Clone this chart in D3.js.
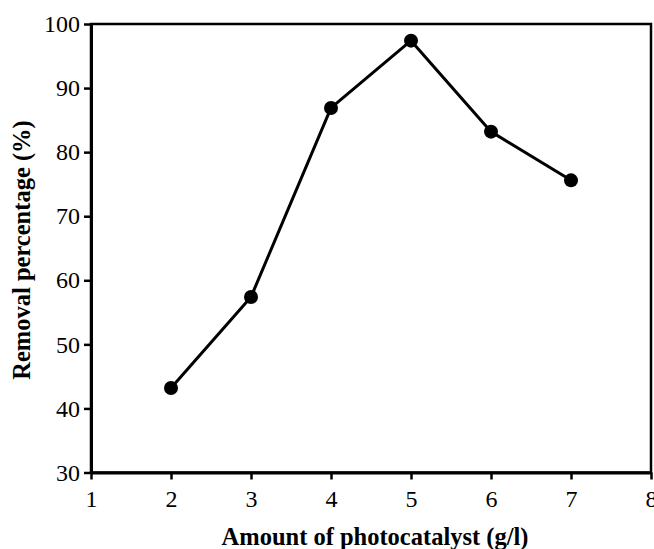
<!DOCTYPE html>
<html>
<head>
<meta charset="utf-8">
<script src="https://cdn.jsdelivr.net/npm/d3@7"></script>
<style>
  body { margin: 0; background: #fff; }
  svg text { fill: #000; }
</style>
</head>
<body>
<div id="chart"></div>
<script>
// data
const dose = [2, 3, 4, 5, 6, 7];
const removal = [43.2, 57.4, 86.9, 97.4, 83.2, 75.6];
const xTicks = [1, 2, 3, 4, 5, 6, 7, 8];
const yTicks = [30, 40, 50, 60, 70, 80, 90, 100];

const serif = "'Liberation Serif', 'Times New Roman', serif";

const width = 654, height = 549;
const margin = { top: 24, right: 3, bottom: 76.5, left: 91 };

const svg = d3.select("#chart").append("svg")
  .attr("width", width)
  .attr("height", height);

const x = d3.scaleLinear().domain([1, 8]).range([margin.left, width - margin.right]);
const y = d3.scaleLinear().domain([30, 100]).range([height - margin.bottom, margin.top]);

// frame top/right
svg.append("rect")
  .attr("x", x(1)).attr("y", y(100))
  .attr("width", x(8) - x(1)).attr("height", y(30) - y(100))
  .attr("fill", "none").attr("stroke", "#000").attr("stroke-width", 2.5);

const xAxis = svg.append("g")
  .attr("transform", `translate(0,${y(30)})`)
  .call(d3.axisBottom(x).tickValues(xTicks).tickFormat(d3.format("d")).tickSizeInner(7).tickSizeOuter(0).tickPadding(10));

const yAxis = svg.append("g")
  .attr("transform", `translate(${x(1)},0)`)
  .call(d3.axisLeft(y).tickValues(yTicks).tickSizeInner(7).tickSizeOuter(0).tickPadding(4));

[xAxis, yAxis].forEach(g => {
  g.attr("font-family", serif).attr("font-size", 24);
  g.select(".domain").attr("stroke-width", 3);
  g.selectAll(".tick line").attr("stroke-width", 2.5);
});

// axis titles
svg.append("text")
  .attr("x", 375)
  .attr("y", 545)
  .attr("text-anchor", "middle")
  .attr("font-family", serif)
  .attr("font-size", 24.5)
  .attr("font-weight", "bold")
  .text("Amount of photocatalyst (g/l)");

svg.append("text")
  .attr("transform", `translate(30,250) rotate(-90)`)
  .attr("text-anchor", "middle")
  .attr("font-family", serif)
  .attr("font-size", 24.5)
  .attr("font-weight", "bold")
  .text("Removal percentage (%)");

const pts = dose.map((d, i) => [d, removal[i]]);

svg.append("path")
  .datum(pts)
  .attr("fill", "none")
  .attr("stroke", "#000")
  .attr("stroke-width", 3)
  .attr("stroke-linejoin", "round")
  .attr("d", d3.line().x(d => x(d[0])).y(d => y(d[1])));

svg.selectAll("circle.pt")
  .data(pts)
  .join("circle")
  .attr("class", "pt")
  .attr("cx", d => x(d[0]))
  .attr("cy", d => y(d[1]))
  .attr("r", 7)
  .attr("fill", "#000");
</script>
</body>
</html>
